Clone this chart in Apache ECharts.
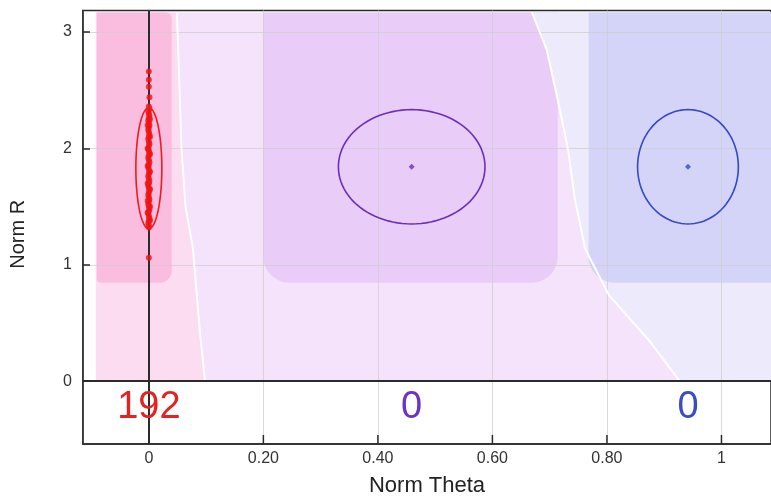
<!DOCTYPE html>
<html><head><meta charset="utf-8">
<script src="https://cdn.jsdelivr.net/npm/echarts@6/dist/echarts.min.js"></script>
<style>html,body{margin:0;padding:0;background:#fff;overflow:hidden}#c{width:771px;height:502px}</style>
</head><body><div id="c"></div>
<script>
// ---- data ----
const clusterX = [0.0, 0.459, 0.9415];
const clusterY = [1.83, 1.842, 1.842];
const ellipseRX = [0.0227, 0.128, 0.088];
const ellipseRY = [0.52, 0.491, 0.491];
const clusterCounts = ['192', '0', '0'];

const redPointsY = [2.66, 2.59, 2.53, 2.44, 2.36, 2.34, 2.32, 2.30, 2.28, 2.26, 2.24, 2.22, 2.20, 2.18,
  2.16, 2.14, 2.12, 2.10, 2.08, 2.06, 2.04, 2.02, 2.00, 1.98, 1.96, 1.94, 1.92, 1.90, 1.88, 1.86,
  1.84, 1.82, 1.80, 1.78, 1.76, 1.74, 1.72, 1.70, 1.68, 1.66, 1.64, 1.62, 1.60, 1.58, 1.56, 1.54,
  1.52, 1.50, 1.48, 1.46, 1.44, 1.42, 1.40, 1.38, 1.36, 1.34, 1.32, 1.06,
  2.25, 2.10, 1.95, 1.80, 1.65, 1.50, 1.38, 2.20, 2.00, 1.85, 1.70, 1.55, 1.45];
const redPointsX = [0, 0, 0, 0.001, 0, 0.001, -0.001, 0, 0.001, 0, -0.001, 0, 0.001, 0,
  -0.001, 0, 0.001, 0, -0.001, 0, 0.001, 0, -0.001, 0, 0.001, 0, -0.001, 0, 0.001, 0,
  -0.001, 0, 0.001, 0, -0.001, 0, 0.001, 0, -0.001, 0, 0.001, 0, -0.001, 0, 0.001, 0,
  -0.001, 0, 0.001, 0, -0.001, 0, 0.001, 0, -0.001, 0, 0, 0,
  0.002, 0.002, 0.002, 0.002, 0.002, 0.002, 0.002, -0.002, -0.002, -0.002, -0.002, -0.002, -0.002];

const leftBoundaryX = [0.049, 0.053, 0.057, 0.064, 0.077, 0.089, 0.098];
const leftBoundaryY = [3.168, 2.6, 2.0, 1.5, 1.14, 0.43, 0];
const rightBoundaryX = [0.669, 0.695, 0.714, 0.732, 0.744, 0.762, 0.804, 0.875, 0.927];
const rightBoundaryY = [3.168, 2.846, 2.419, 1.991, 1.564, 1.137, 0.735, 0.342, 0];
const regionLeft = -0.0925, regionRight = 1.1, regionTop = 3.168, regionBottom = 0;

const boxX0 = [-0.091, 0.200, 0.768];
const boxX1 = [0.040, 0.714, 1.1];
const boxY0 = [0.846, 0.846, 0.846];
const boxY1 = [3.168, 3.168, 3.168];

const xTickValues = [0, 0.2, 0.4, 0.6, 0.8, 1];
const yTickValues = [0, 1, 2, 3];
const X_MIN = -0.115, X_MAX = 1.0865, Y_MIN = -0.54, Y_MAX = 3.185;

// ---- styling ----
const FONT = 'Liberation Sans, Arial, sans-serif';
const clusterColors = ['#ee1c1c', '#6b2fb8', '#3448c8'];
const countColors = ['#e52222', '#6a34c4', '#3a4cc8'];
const boxColors = ['#fabde0', '#eaccf8', '#d4d4f9'];
const boxRadius = [[0, 6, 12, 4], [0, 0, 26, 26], [0, 0, 0, 26]];

const leftPts = [[regionLeft, regionBottom], [regionLeft, regionTop]]
  .concat(leftBoundaryX.map((x, i) => [x, leftBoundaryY[i]]));
const rightPts = rightBoundaryX.map((x, i) => [x, rightBoundaryY[i]])
  .concat([[regionRight, regionBottom], [regionRight, regionTop]]);
const midPts = [[regionLeft, regionBottom], [regionLeft, regionTop], [regionRight, regionTop], [regionRight, regionBottom]];

function polySeries(pts, color, z) {
  return {
    type: 'custom', silent: true, z: z, data: [[pts[0][0], pts[0][1]]],
    renderItem: (p, api) => ({ type: 'polygon', shape: { points: pts.map(q => api.coord(q)) }, style: { fill: color } })
  };
}
function boxSeries(indices, z) {
  return {
    type: 'custom', silent: true, z: z,
    data: indices.map(i => [boxX0[i], boxY0[i], boxX1[i], boxY1[i], i]),
    renderItem: (p, api) => {
      const i = api.value(4);
      const a = api.coord([api.value(0), api.value(3)]);
      const b = api.coord([api.value(2), api.value(1)]);
      return { type: 'rect', shape: { x: a[0], y: a[1], width: b[0] - a[0], height: b[1] - a[1], r: boxRadius[i] }, style: { fill: boxColors[i] } };
    }
  };
}
function lineSeries(xs, ys) {
  return {
    type: 'line', z: 3, silent: true, symbol: 'none', animation: false,
    data: xs.map((x, i) => [x, ys[i]]),
    lineStyle: { color: '#ffffff', width: 2 }
  };
}

const chart = echarts.init(document.getElementById('c'));
chart.setOption({
  animation: false,
  grid: { left: 83, top: 10.5, right: 0, bottom: 55.5, show: true, borderColor: '#2a2a2a', borderWidth: 1.5, containLabel: false },
  xAxis: {
    type: 'value', min: X_MIN, max: X_MAX, splitNumber: 6, z: 2,
    name: 'Norm Theta', nameLocation: 'middle', nameGap: 31,
    nameTextStyle: { fontFamily: FONT, fontSize: 22, color: '#222' },
    axisLine: { show: true, onZero: false, lineStyle: { color: '#2a2a2a', width: 1.5 } },
    axisTick: { show: false },
    axisLabel: {
      customValues: xTickValues, margin: 7, fontFamily: FONT, fontSize: 16, color: '#333',
      formatter: v => (v === 0 ? '0' : (Math.abs(v - 1) < 1e-9 ? '1' : v.toFixed(2)))
    },
    splitLine: { show: true, lineStyle: { color: 'rgba(205,205,205,0.75)', width: 1 } }
  },
  yAxis: {
    type: 'value', min: Y_MIN, max: Y_MAX, z: 2,
    name: 'Norm R', nameLocation: 'middle', nameGap: 55,
    nameTextStyle: { fontFamily: FONT, fontSize: 20, color: '#222', padding: [0, 14, 0, 0] },
    axisLine: { show: true, onZero: false, lineStyle: { color: '#2a2a2a', width: 1.5 } },
    axisTick: { show: true, inside: true, length: 7, lineStyle: { color: '#2a2a2a', width: 1.5 }, customValues: yTickValues },
    axisLabel: { customValues: yTickValues, margin: 11, fontFamily: FONT, fontSize: 16, color: '#333', formatter: v => String(Math.round(v)) },
    splitLine: { show: true, lineStyle: { color: 'rgba(205,205,205,0.75)', width: 1 } }
  },
  series: [
    polySeries(midPts, '#f5e2fb', 1),
    polySeries(leftPts, '#fcdcf0', 1),
    boxSeries([0, 1], 1),
    polySeries(rightPts, '#eceafb', 1),
    boxSeries([2], 1),
    lineSeries(leftBoundaryX, leftBoundaryY),
    lineSeries(rightBoundaryX, rightBoundaryY),
    {
      type: 'scatter', z: 3, silent: true, data: [],
      markLine: {
        silent: true, symbol: 'none', animation: false, label: { show: false },
        lineStyle: { color: '#2b2b2b', width: 2, type: 'solid' },
        data: [{ xAxis: 0 }, { yAxis: 0 }]
      }
    },
    {
      // x-axis tick marks (inside), placed with the x scale
      type: 'custom', z: 4, silent: true,
      data: xTickValues.map(v => [v, Y_MIN]),
      renderItem: (p, api) => {
        const c = api.coord([api.value(0), api.value(1)]);
        return { type: 'line', shape: { x1: c[0], y1: c[1], x2: c[0], y2: c[1] - 9 }, style: { stroke: '#2a2a2a', lineWidth: 1.5 } };
      }
    },
    {
      type: 'scatter', z: 5, symbolSize: 6, silent: true,
      itemStyle: { color: '#f01414' },
      data: redPointsX.map((x, i) => [x, redPointsY[i]])
    },
    {
      type: 'custom', z: 6, silent: true,
      data: clusterX.map((x, i) => [x, clusterY[i], ellipseRX[i], ellipseRY[i], i]),
      renderItem: (p, api) => {
        const c = api.coord([api.value(0), api.value(1)]);
        const s = api.size([api.value(2), api.value(3)]);
        const pts = [];
        for (let k = 0; k < 96; k++) {
          const t = k / 96 * Math.PI * 2;
          pts.push([c[0] + s[0] * Math.cos(t), c[1] + s[1] * Math.sin(t)]);
        }
        return { type: 'polygon', shape: { points: pts }, style: { fill: 'none', stroke: clusterColors[api.value(4)], lineWidth: 1.6 } };
      }
    },
    {
      type: 'scatter', z: 6, silent: true, symbol: 'diamond', symbolSize: 6,
      data: clusterX.slice(1).map((x, i) => ({ value: [x, clusterY[i + 1]], itemStyle: { color: clusterColors[i + 1] } }))
    },
    {
      type: 'custom', z: 6, silent: true,
      data: clusterX.map((x, i) => [x, -0.23, i]),
      renderItem: (p, api) => {
        const c = api.coord([api.value(0), api.value(1)]);
        const i = api.value(2);
        return { type: 'text', x: c[0], y: c[1], style: { text: clusterCounts[i], fill: countColors[i], font: '38px ' + FONT, align: 'center', verticalAlign: 'middle' } };
      }
    }
  ]
});
</script></body></html>
